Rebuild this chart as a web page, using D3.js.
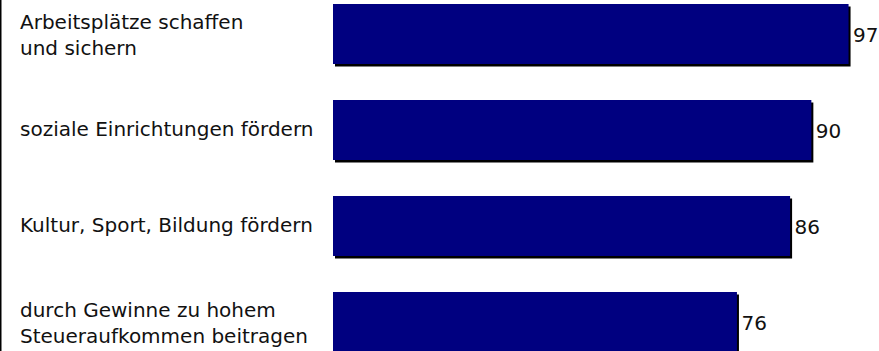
<!DOCTYPE html>
<html><head><meta charset="utf-8">
<script src="https://cdn.jsdelivr.net/npm/d3@7"></script>
<style>body{margin:0;background:#fff}svg{display:block}</style>
</head><body>
<script>
const categories = [
  ["Arbeitsplätze schaffen", "und sichern"],
  ["soziale Einrichtungen fördern"],
  ["Kultur, Sport, Bildung fördern"],
  ["durch Gewinne zu hohem", "Steueraufkommen beitragen"]
];
const values = [97, 90, 86, 76];
const keys = categories.map(c => c.join(" "));

const W = 879, H = 351;
const svg = d3.select("body").append("svg").attr("width", W).attr("height", H);
const font = "'DejaVu Sans', sans-serif";

const x = d3.scaleLinear().domain([0, 100]).range([333, 864.5]);
const y = d3.scaleBand().domain(keys).range([4, 352]).paddingInner(0.375).paddingOuter(0);

svg.append("line").attr("x1", 0.75).attr("x2", 0.75).attr("y1", 0).attr("y2", H)
  .attr("stroke", "#000").attr("stroke-width", 1.5);

const g = svg.append("g");
const rows = g.selectAll("g.row").data(values).join("g").attr("class", "row");

rows.append("rect")
  .attr("x", x(0) + 2).attr("y", (d, i) => y(keys[i]) + 2.5)
  .attr("width", d => x(d) - x(0)).attr("height", y.bandwidth())
  .attr("fill", "#000");
rows.append("rect")
  .attr("x", x(0)).attr("y", (d, i) => y(keys[i]))
  .attr("width", d => x(d) - x(0)).attr("height", y.bandwidth())
  .attr("fill", "#000080");

rows.append("text")
  .attr("x", d => x(d) + 4.5)
  .attr("y", (d, i) => y(keys[i]) + y.bandwidth() / 2 + 7.5)
  .attr("font-family", font).attr("font-size", 20).attr("fill", "#111")
  .text(d => d);

rows.each(function(d, i) {
  const lines = categories[i];
  const t = d3.select(this).append("text")
    .attr("font-family", font).attr("font-size", 20).attr("fill", "#111");
  const mid = y(keys[i]) + y.bandwidth() / 2;
  const first = lines.length === 1 ? mid + 6 : mid - 5;
  lines.forEach((l, j) => {
    t.append("tspan").attr("x", 20).attr("y", first + j * 26).text(l);
  });
});
</script>
</body></html>
